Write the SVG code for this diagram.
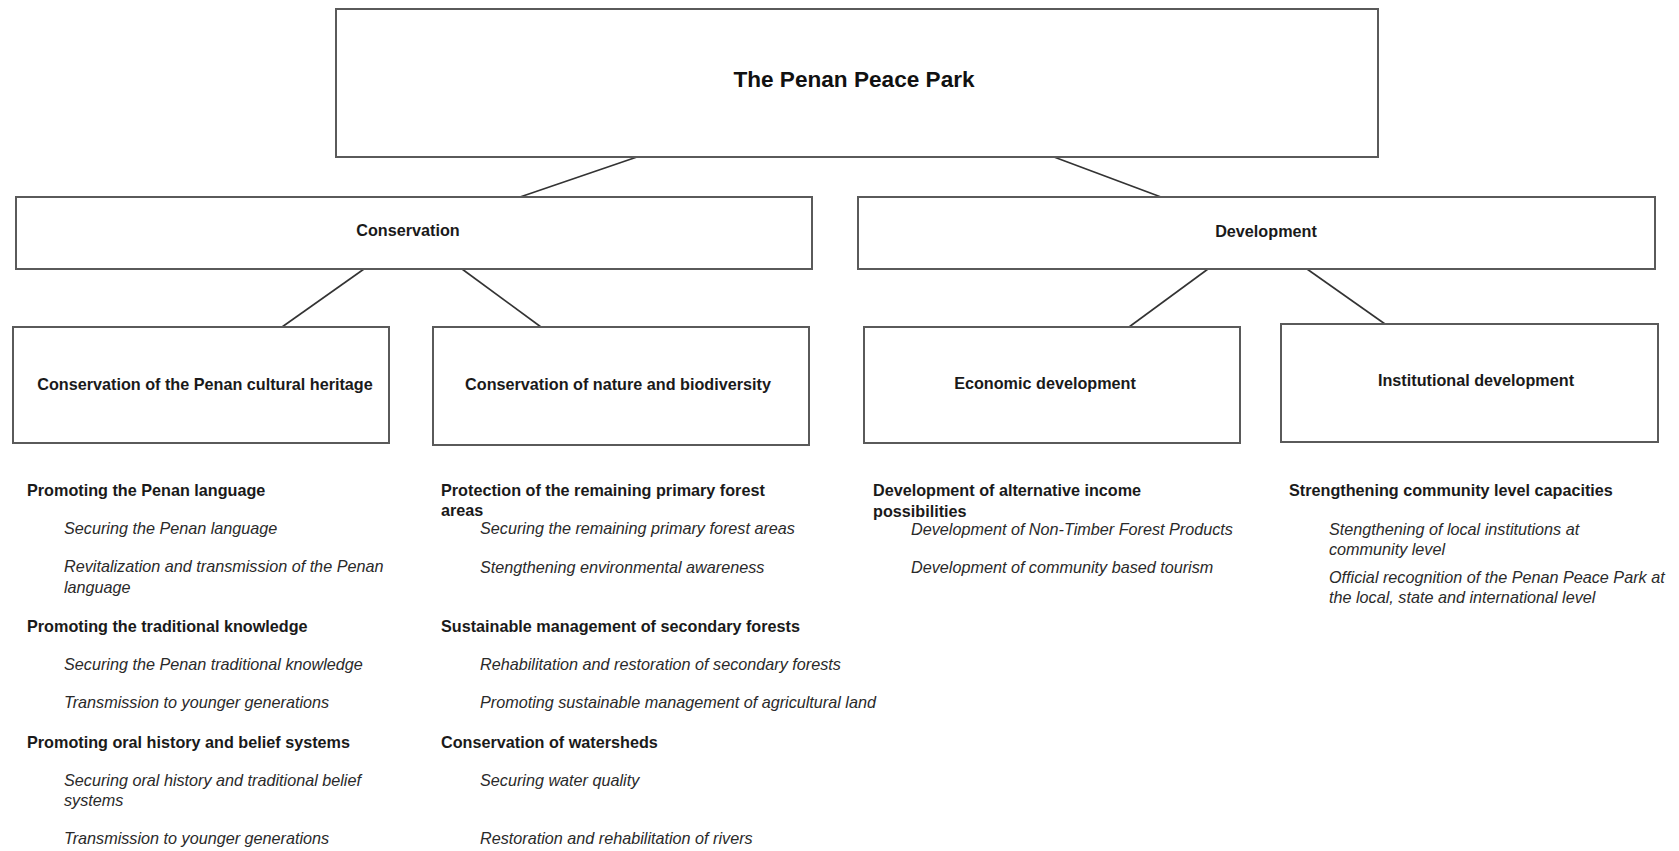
<svg xmlns="http://www.w3.org/2000/svg" width="1679" height="851" viewBox="0 0 1679 851">
<style>
.box{fill:#fff;stroke:#5a5a5a;stroke-width:2}
.lbl{font-family:"Liberation Sans",Arial,sans-serif;font-size:16.2px;font-weight:bold;fill:#1a1a1a;text-anchor:middle}
.ttl{font-family:"Liberation Sans",Arial,sans-serif;font-size:22.6px;font-weight:bold;fill:#111;text-anchor:middle}
.h{font-family:"Liberation Sans",Arial,sans-serif;font-size:16.2px;font-weight:bold;fill:#1a1a1a}
.i{font-family:"Liberation Sans",Arial,sans-serif;font-size:16.2px;font-style:italic;fill:#2a2a2a}
.con{stroke:#333;stroke-width:1.6;fill:none}
</style>
<rect width="1679" height="851" fill="#fff"/>
<g id="connectors">
<line class="con" x1="637" y1="157" x2="520" y2="197"/>
<line class="con" x1="1054" y1="157" x2="1161" y2="197"/>
<line class="con" x1="364" y1="269" x2="282" y2="327"/>
<line class="con" x1="462" y1="269" x2="541" y2="327"/>
<line class="con" x1="1208" y1="269" x2="1129" y2="327"/>
<line class="con" x1="1307" y1="269" x2="1385" y2="324"/>
</g>
<g id="root">
<rect class="box" x="336" y="9" width="1042" height="148"/>
<text class="ttl" x="854" y="87">The Penan Peace Park</text>
</g>
<g id="conservation">
<rect class="box" x="16" y="197" width="796" height="72"/>
<text class="lbl" x="408" y="236">Conservation</text>
</g>
<g id="development">
<rect class="box" x="858" y="197" width="797" height="72"/>
<text class="lbl" x="1266" y="237">Development</text>
</g>
<g id="cultural">
<rect class="box" x="13" y="327" width="376" height="116"/>
<text class="lbl" x="205" y="390">Conservation of the Penan cultural heritage</text>
</g>
<g id="nature">
<rect class="box" x="433" y="327" width="376" height="118"/>
<text class="lbl" x="618" y="390">Conservation of nature and biodiversity</text>
</g>
<g id="economic">
<rect class="box" x="864" y="327" width="376" height="116"/>
<text class="lbl" x="1045" y="389">Economic development</text>
</g>
<g id="institutional">
<rect class="box" x="1281" y="324" width="377" height="118"/>
<text class="lbl" x="1476" y="386">Institutional development</text>
</g>
<g id="cultural-list">
<text class="h" x="27" y="496">Promoting the Penan language</text>
<text class="i" x="64" y="534">Securing the Penan language</text>
<text class="i" x="64" y="572">Revitalization and transmission of the Penan</text>
<text class="i" x="64" y="593">language</text>
<text class="h" x="27" y="632">Promoting the traditional knowledge</text>
<text class="i" x="64" y="670">Securing the Penan traditional knowledge</text>
<text class="i" x="64" y="708">Transmission to younger generations</text>
<text class="h" x="27" y="748">Promoting oral history and belief systems</text>
<text class="i" x="64" y="786">Securing oral history and traditional belief</text>
<text class="i" x="64" y="806">systems</text>
<text class="i" x="64" y="844">Transmission to younger generations</text>
</g>
<g id="nature-list">
<text class="h" x="441" y="496">Protection of the remaining primary forest</text>
<text class="h" x="441" y="516">areas</text>
<text class="i" x="480" y="534">Securing the remaining primary forest areas</text>
<text class="i" x="480" y="573">Stengthening environmental awareness</text>
<text class="h" x="441" y="632">Sustainable management of secondary forests</text>
<text class="i" x="480" y="670">Rehabilitation and restoration of secondary forests</text>
<text class="i" x="480" y="708">Promoting sustainable management of agricultural land</text>
<text class="h" x="441" y="748">Conservation of watersheds</text>
<text class="i" x="480" y="786">Securing water quality</text>
<text class="i" x="480" y="844">Restoration and rehabilitation of rivers</text>
</g>
<g id="economic-list">
<text class="h" x="873" y="496">Development of alternative income</text>
<text class="h" x="873" y="517">possibilities</text>
<text class="i" x="911" y="535">Development of Non-Timber Forest Products</text>
<text class="i" x="911" y="573">Development of community based tourism</text>
</g>
<g id="institutional-list">
<text class="h" x="1289" y="496">Strengthening community level capacities</text>
<text class="i" x="1329" y="535">Stengthening of local institutions at</text>
<text class="i" x="1329" y="555">community level</text>
<text class="i" x="1329" y="583">Official recognition of the Penan Peace Park at</text>
<text class="i" x="1329" y="603">the local, state and international level</text>
</g>
</svg>
